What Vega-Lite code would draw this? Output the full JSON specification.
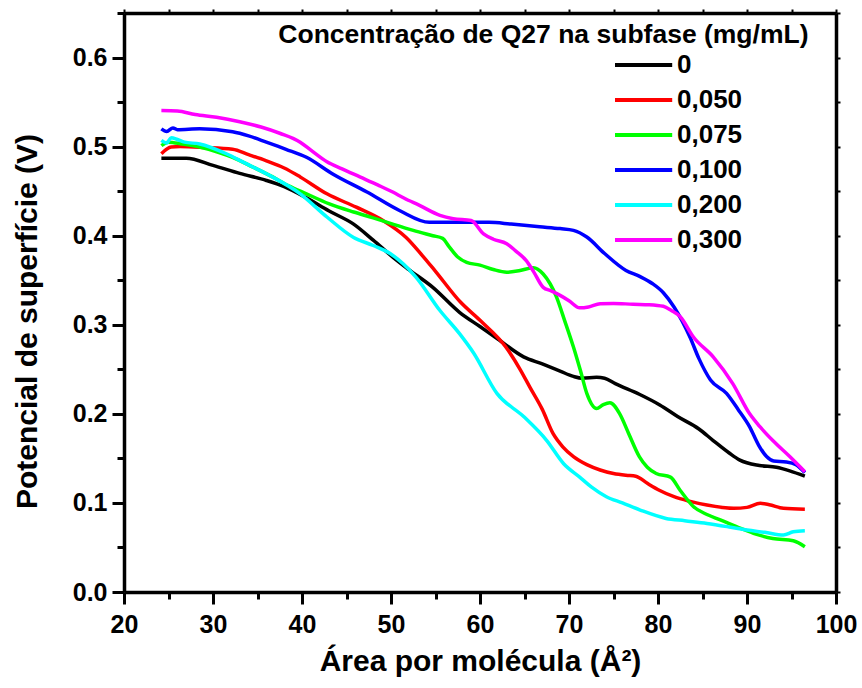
{
  "$schema": "https://vega.github.io/schema/vega-lite/v6.json",
  "width": 712,
  "height": 579,
  "autosize": {"type": "none"},
  "padding": {"left": 124, "top": 13, "right": 26, "bottom": 96},
  "background": "white",
  "config": {"view": {"stroke": null}, "font": "Liberation Sans"},
  "datasets": {
    "curves": [
      {"c":"0","a":24.2,"v":0.487},{"c":"0","a":27.0,"v":0.487},{"c":"0","a":30.0,"v":0.479},{"c":"0","a":33.0,"v":0.470},{"c":"0","a":36.0,"v":0.462},{"c":"0","a":38.0,"v":0.455},{"c":"0","a":40.4,"v":0.443},{"c":"0","a":43.0,"v":0.428},{"c":"0","a":45.8,"v":0.413},{"c":"0","a":48.0,"v":0.395},{"c":"0","a":50.2,"v":0.376},{"c":"0","a":52.0,"v":0.362},{"c":"0","a":54.7,"v":0.342},{"c":"0","a":57.7,"v":0.314},{"c":"0","a":60.0,"v":0.298},{"c":"0","a":62.0,"v":0.284},{"c":"0","a":64.9,"v":0.264},{"c":"0","a":67.0,"v":0.256},{"c":"0","a":69.0,"v":0.248},{"c":"0","a":70.5,"v":0.242},{"c":"0","a":71.5,"v":0.240},{"c":"0","a":73.1,"v":0.241},{"c":"0","a":74.0,"v":0.240},{"c":"0","a":75.2,"v":0.234},{"c":"0","a":77.9,"v":0.222},{"c":"0","a":80.2,"v":0.210},{"c":"0","a":82.2,"v":0.197},{"c":"0","a":84.6,"v":0.183},{"c":"0","a":86.2,"v":0.170},{"c":"0","a":88.0,"v":0.156},{"c":"0","a":89.2,"v":0.148},{"c":"0","a":91.4,"v":0.142},{"c":"0","a":93.3,"v":0.140},{"c":"0","a":94.8,"v":0.136},{"c":"0","a":96.5,"v":0.130},
      {"c":"0,050","a":24.2,"v":0.492},{"c":"0,050","a":25.3,"v":0.4995},{"c":"0,050","a":26.3,"v":0.500},{"c":"0,050","a":29.0,"v":0.499},{"c":"0,050","a":32.2,"v":0.497},{"c":"0,050","a":34.0,"v":0.491},{"c":"0,050","a":36.0,"v":0.484},{"c":"0,050","a":38.0,"v":0.476},{"c":"0,050","a":39.8,"v":0.466},{"c":"0,050","a":42.8,"v":0.447},{"c":"0,050","a":46.1,"v":0.432},{"c":"0,050","a":49.1,"v":0.417},{"c":"0,050","a":51.7,"v":0.398},{"c":"0,050","a":53.5,"v":0.378},{"c":"0,050","a":55.0,"v":0.360},{"c":"0,050","a":57.8,"v":0.3255},{"c":"0,050","a":60.0,"v":0.305},{"c":"0,050","a":62.9,"v":0.275},{"c":"0,050","a":64.5,"v":0.250},{"c":"0,050","a":65.6,"v":0.230},{"c":"0,050","a":67.0,"v":0.205},{"c":"0,050","a":68.2,"v":0.178},{"c":"0,050","a":69.3,"v":0.163},{"c":"0,050","a":70.5,"v":0.152},{"c":"0,050","a":72.0,"v":0.143},{"c":"0,050","a":73.5,"v":0.137},{"c":"0,050","a":75.0,"v":0.133},{"c":"0,050","a":76.4,"v":0.131},{"c":"0,050","a":77.5,"v":0.130},{"c":"0,050","a":78.8,"v":0.122},{"c":"0,050","a":80.2,"v":0.114},{"c":"0,050","a":81.8,"v":0.107},{"c":"0,050","a":83.5,"v":0.102},{"c":"0,050","a":85.5,"v":0.0976},{"c":"0,050","a":88.5,"v":0.094},{"c":"0,050","a":90.0,"v":0.095},{"c":"0,050","a":91.5,"v":0.0995},{"c":"0,050","a":92.5,"v":0.098},{"c":"0,050","a":94.1,"v":0.094},{"c":"0,050","a":96.5,"v":0.093},
      {"c":"0,075","a":24.2,"v":0.501},{"c":"0,075","a":25.0,"v":0.505},{"c":"0,075","a":26.5,"v":0.503},{"c":"0,075","a":28.5,"v":0.4995},{"c":"0,075","a":30.5,"v":0.494},{"c":"0,075","a":32.2,"v":0.488},{"c":"0,075","a":34.5,"v":0.477},{"c":"0,075","a":36.7,"v":0.466},{"c":"0,075","a":38.5,"v":0.456},{"c":"0,075","a":40.5,"v":0.447},{"c":"0,075","a":43.0,"v":0.436},{"c":"0,075","a":45.8,"v":0.4266},{"c":"0,075","a":48.0,"v":0.420},{"c":"0,075","a":50.2,"v":0.413},{"c":"0,075","a":52.5,"v":0.406},{"c":"0,075","a":54.7,"v":0.400},{"c":"0,075","a":55.8,"v":0.397},{"c":"0,075","a":56.5,"v":0.388},{"c":"0,075","a":57.5,"v":0.376},{"c":"0,075","a":58.5,"v":0.370},{"c":"0,075","a":60.0,"v":0.367},{"c":"0,075","a":61.5,"v":0.362},{"c":"0,075","a":63.0,"v":0.359},{"c":"0,075","a":64.5,"v":0.361},{"c":"0,075","a":66.0,"v":0.364},{"c":"0,075","a":67.1,"v":0.357},{"c":"0,075","a":68.6,"v":0.331},{"c":"0,075","a":69.5,"v":0.305},{"c":"0,075","a":70.5,"v":0.275},{"c":"0,075","a":71.3,"v":0.248},{"c":"0,075","a":72.0,"v":0.223},{"c":"0,075","a":73.1,"v":0.206},{"c":"0,075","a":73.8,"v":0.210},{"c":"0,075","a":74.6,"v":0.2125},{"c":"0,075","a":75.7,"v":0.200},{"c":"0,075","a":76.7,"v":0.178},{"c":"0,075","a":77.9,"v":0.152},{"c":"0,075","a":78.8,"v":0.140},{"c":"0,075","a":79.8,"v":0.133},{"c":"0,075","a":81.4,"v":0.129},{"c":"0,075","a":82.5,"v":0.114},{"c":"0,075","a":84.0,"v":0.0957},{"c":"0,075","a":85.5,"v":0.087},{"c":"0,075","a":87.0,"v":0.081},{"c":"0,075","a":89.3,"v":0.0714},{"c":"0,075","a":91.0,"v":0.065},{"c":"0,075","a":92.9,"v":0.060},{"c":"0,075","a":95.2,"v":0.0575},{"c":"0,075","a":96.5,"v":0.0508},
      {"c":"0,100","a":24.2,"v":0.520},{"c":"0,100","a":24.8,"v":0.517},{"c":"0,100","a":25.5,"v":0.521},{"c":"0,100","a":26.0,"v":0.519},{"c":"0,100","a":28.5,"v":0.520},{"c":"0,100","a":32.2,"v":0.5166},{"c":"0,100","a":34.0,"v":0.512},{"c":"0,100","a":36.0,"v":0.505},{"c":"0,100","a":38.2,"v":0.497},{"c":"0,100","a":40.5,"v":0.488},{"c":"0,100","a":43.5,"v":0.469},{"c":"0,100","a":47.3,"v":0.449},{"c":"0,100","a":51.0,"v":0.428},{"c":"0,100","a":54.3,"v":0.415},{"c":"0,100","a":57.7,"v":0.415},{"c":"0,100","a":61.0,"v":0.415},{"c":"0,100","a":63.5,"v":0.413},{"c":"0,100","a":66.7,"v":0.410},{"c":"0,100","a":69.0,"v":0.408},{"c":"0,100","a":70.5,"v":0.406},{"c":"0,100","a":72.0,"v":0.3985},{"c":"0,100","a":74.0,"v":0.380},{"c":"0,100","a":76.4,"v":0.361},{"c":"0,100","a":78.0,"v":0.354},{"c":"0,100","a":79.4,"v":0.346},{"c":"0,100","a":80.6,"v":0.336},{"c":"0,100","a":81.8,"v":0.320},{"c":"0,100","a":83.6,"v":0.286},{"c":"0,100","a":84.6,"v":0.262},{"c":"0,100","a":85.9,"v":0.238},{"c":"0,100","a":87.7,"v":0.223},{"c":"0,100","a":89.0,"v":0.205},{"c":"0,100","a":90.3,"v":0.1854},{"c":"0,100","a":91.3,"v":0.165},{"c":"0,100","a":92.2,"v":0.152},{"c":"0,100","a":93.0,"v":0.147},{"c":"0,100","a":94.4,"v":0.146},{"c":"0,100","a":95.5,"v":0.143},{"c":"0,100","a":96.5,"v":0.134},
      {"c":"0,200","a":24.2,"v":0.507},{"c":"0,200","a":24.8,"v":0.504},{"c":"0,200","a":25.3,"v":0.510},{"c":"0,200","a":26.0,"v":0.508},{"c":"0,200","a":26.8,"v":0.505},{"c":"0,200","a":28.5,"v":0.503},{"c":"0,200","a":31.5,"v":0.492},{"c":"0,200","a":33.5,"v":0.482},{"c":"0,200","a":36.0,"v":0.4695},{"c":"0,200","a":39.8,"v":0.447},{"c":"0,200","a":42.8,"v":0.421},{"c":"0,200","a":45.8,"v":0.398},{"c":"0,200","a":48.0,"v":0.389},{"c":"0,200","a":49.9,"v":0.380},{"c":"0,200","a":52.8,"v":0.3536},{"c":"0,200","a":55.5,"v":0.316},{"c":"0,200","a":57.7,"v":0.290},{"c":"0,200","a":59.3,"v":0.268},{"c":"0,200","a":61.9,"v":0.223},{"c":"0,200","a":64.9,"v":0.197},{"c":"0,200","a":67.5,"v":0.170},{"c":"0,200","a":69.4,"v":0.144},{"c":"0,200","a":71.2,"v":0.129},{"c":"0,200","a":72.5,"v":0.118},{"c":"0,200","a":74.2,"v":0.107},{"c":"0,200","a":76.0,"v":0.100},{"c":"0,200","a":78.0,"v":0.092},{"c":"0,200","a":80.9,"v":0.0826},{"c":"0,200","a":83.0,"v":0.080},{"c":"0,200","a":85.5,"v":0.077},{"c":"0,200","a":88.0,"v":0.073},{"c":"0,200","a":90.0,"v":0.0695},{"c":"0,200","a":92.0,"v":0.067},{"c":"0,200","a":94.1,"v":0.064},{"c":"0,200","a":95.2,"v":0.0676},{"c":"0,200","a":96.5,"v":0.0687},
      {"c":"0,300","a":24.2,"v":0.5405},{"c":"0,300","a":26.0,"v":0.540},{"c":"0,300","a":28.0,"v":0.536},{"c":"0,300","a":30.4,"v":0.533},{"c":"0,300","a":33.0,"v":0.528},{"c":"0,300","a":35.4,"v":0.522},{"c":"0,300","a":37.5,"v":0.515},{"c":"0,300","a":39.8,"v":0.505},{"c":"0,300","a":41.0,"v":0.496},{"c":"0,300","a":42.8,"v":0.483},{"c":"0,300","a":44.5,"v":0.475},{"c":"0,300","a":46.5,"v":0.466},{"c":"0,300","a":48.5,"v":0.457},{"c":"0,300","a":50.2,"v":0.449},{"c":"0,300","a":51.5,"v":0.442},{"c":"0,300","a":53.2,"v":0.434},{"c":"0,300","a":55.5,"v":0.4228},{"c":"0,300","a":57.0,"v":0.419},{"c":"0,300","a":59.0,"v":0.417},{"c":"0,300","a":60.4,"v":0.402},{"c":"0,300","a":61.5,"v":0.396},{"c":"0,300","a":63.0,"v":0.391},{"c":"0,300","a":64.0,"v":0.383},{"c":"0,300","a":65.2,"v":0.372},{"c":"0,300","a":66.0,"v":0.360},{"c":"0,300","a":67.1,"v":0.342},{"c":"0,300","a":68.0,"v":0.338},{"c":"0,300","a":69.0,"v":0.333},{"c":"0,300","a":70.0,"v":0.327},{"c":"0,300","a":71.2,"v":0.319},{"c":"0,300","a":72.2,"v":0.320},{"c":"0,300","a":73.5,"v":0.3237},{"c":"0,300","a":75.0,"v":0.324},{"c":"0,300","a":77.2,"v":0.323},{"c":"0,300","a":79.0,"v":0.3225},{"c":"0,300","a":80.6,"v":0.3207},{"c":"0,300","a":81.5,"v":0.316},{"c":"0,300","a":82.5,"v":0.309},{"c":"0,300","a":84.0,"v":0.286},{"c":"0,300","a":86.2,"v":0.264},{"c":"0,300","a":88.4,"v":0.234},{"c":"0,300","a":90.3,"v":0.200},{"c":"0,300","a":91.5,"v":0.185},{"c":"0,300","a":92.9,"v":0.170},{"c":"0,300","a":94.8,"v":0.152},{"c":"0,300","a":96.5,"v":0.135}
    ]
  },
  "data": {"name": "curves"},
  "layer": [
    {
      "mark": {"type": "line", "strokeWidth": 3.5, "interpolate": "monotone"},
      "encoding": {
        "x": {"field": "a", "type": "quantitative",
          "scale": {"domain": [20, 100], "nice": false, "zero": false},
          "axis": {"orient": "bottom", "values": [20,25,30,35,40,45,50,55,60,65,70,75,80,85,90,95,100],
            "labelExpr": "datum.value % 10 === 0 ? datum.label : ''",
            "tickSize": {"condition": {"test": "datum.value % 10 === 0", "value": 12}, "value": 7},
            "tickWidth": 3, "tickColor": "black", "domainColor": "black", "domainWidth": 3.5,
            "labelFont": "Liberation Sans", "labelFontSize": 25, "labelFontWeight": "bold", "labelColor": "black",
            "labelPadding": 8, "labelFlush": false, "labelOverlap": false, "grid": false,
            "title": "Área por molécula (Å²)", "titleFont": "Liberation Sans", "titleFontSize": 30, "titleFontWeight": "bold", "titleColor": "black",
            "titleBaseline": "alphabetic", "titleY": 78}},
        "y": {"field": "v", "type": "quantitative",
          "scale": {"domain": [0, 0.65], "nice": false, "zero": false},
          "axis": {"orient": "left", "values": [0,0.05,0.1,0.15,0.2,0.25,0.3,0.35,0.4,0.45,0.5,0.55,0.6,0.65],
            "labelExpr": "round(datum.value*100) % 10 === 0 ? format(datum.value, '.1f') : ''",
            "tickSize": {"condition": {"test": "round(datum.value*100) % 10 === 0", "value": 12}, "value": 7},
            "tickWidth": 3, "tickColor": "black", "domainColor": "black", "domainWidth": 3.5,
            "labelFont": "Liberation Sans", "labelFontSize": 25, "labelFontWeight": "bold", "labelColor": "black",
            "labelPadding": 5, "labelFlush": false, "labelOverlap": false, "grid": false,
            "title": "Potencial de superfície (V)", "titleFont": "Liberation Sans", "titleFontSize": 30, "titleFontWeight": "bold", "titleColor": "black",
            "titleBaseline": "alphabetic", "titleAngle": 270, "titleX": -88, "titleY": 308}},
        "color": {"field": "c", "type": "nominal",
          "scale": {"domain": ["0","0,050","0,075","0,100","0,200","0,300"], "range": ["#000000","#FF0000","#00FF00","#0000FF","#00FFFF","#FF00FF"]},
          "legend": {"orient": "none", "legendX": 489, "legendY": 37, "title": null,
            "symbolType": "M-1,0H3.4", "symbolSize": 676, "symbolStrokeWidth": 4,
            "labelFont": "Liberation Sans", "labelFontSize": 26, "labelFontWeight": "bold", "labelColor": "black",
            "labelOffset": 34, "rowPadding": 7, "padding": 0}}
      }
    },
    {
      "mark": {"type": "line", "opacity": 0},
      "encoding": {
        "x": {"field": "a", "type": "quantitative",
          "axis": {"orient": "top", "values": [20,25,30,35,40,45,50,55,60,65,70,75,80,85,90,95,100], "labels": false,
            "title": "Concentração de Q27 na subfase (mg/mL)", "titleFont": "Liberation Sans", "titleFontSize": 26.5, "titleFontWeight": "bold", "titleColor": "black",
            "titleAlign": "right", "titleAngle": 0, "titleBaseline": "alphabetic", "titleX": 684, "titleY": 29,
            "tickSize": 4, "tickWidth": 2, "tickColor": "black", "domainColor": "black", "domainWidth": 3.5, "grid": false}},
        "y": {"field": "v", "type": "quantitative",
          "axis": {"orient": "right", "values": [0,0.05,0.1,0.15,0.2,0.25,0.3,0.35,0.4,0.45,0.5,0.55,0.6,0.65], "labels": false, "title": null,
            "tickSize": 4, "tickWidth": 2, "tickColor": "black", "domainColor": "black", "domainWidth": 3.5, "grid": false}}
      }
    }
  ],
  "resolve": {"axis": {"x": "independent", "y": "independent"}}
}
